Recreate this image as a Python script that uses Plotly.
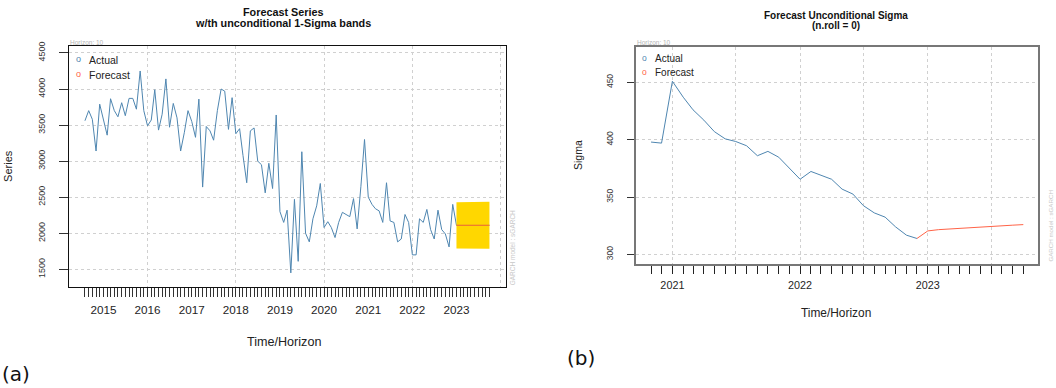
import pandas as pd
import plotly.graph_objects as go

W, H = 1056, 388
FONT = "Liberation Sans, Arial, sans-serif"

# ---------------- data ----------------
series_start = "2014-08-01"
forecast_start = "2023-01-01"
sigma_start = "2020-11-01"

actual_series = [3560, 3700, 3580, 3140, 3790, 3580, 3360, 3865, 3700, 3615,
                 3810, 3630, 3870, 3870, 3720, 4250, 3700, 3490, 3570, 3990,
                 3430, 3650, 4140, 3470, 3800, 3600, 3140, 3400, 3700, 3550,
                 3330, 3860, 2640, 3480, 3420, 3290, 3700, 4000, 3970, 3440,
                 3880, 3380, 3450, 3080, 2700, 3420, 3460, 3000, 2950, 2560,
                 2970, 2620, 3640,
                 2300, 2150, 2320, 1450, 2470, 1610, 3130, 2000, 1880, 2200,
                 2380, 2690, 2080, 2160, 2080, 1940, 2150, 2290, 2260, 2230,
                 2480, 2060, 2650, 3300, 2500, 2400, 2340, 2310, 2150, 2700,
                 2170, 2150, 1880, 1920, 2260, 2150, 1700, 1700, 2200, 2150,
                 2330, 2050, 1920, 2320, 2050, 1990, 1810, 2400]

forecast_series = [2110, 2110, 2110, 2110, 2110, 2110, 2110, 2110, 2110, 2110]

sigma_actual = [397.9, 397.0,
                450.9, 437.0, 426.0, 417.0, 407.0, 400.7, 398.4, 394.7, 386.0, 389.8, 384.7, 375.5,
                365.5, 372.3, 369.2, 365.5, 356.9, 352.6, 342.5, 336.2, 332.5, 324.0, 316.8, 313.9]

sigma_forecast = [320.5, 321.6, 322.2, 322.8, 323.4, 324.0, 324.5, 325.0, 325.5, 326.0]

series_yticks = [1500, 2000, 2500, 3000, 3500, 4000, 4500]
sigma_yticks = [300, 350, 400, 450]

# ---------------- derived ----------------
actual_dates = pd.date_range(series_start, periods=len(actual_series), freq="MS")
forecast_dates = pd.date_range(forecast_start, periods=len(forecast_series), freq="MS")
sigma_dates = pd.date_range(sigma_start, periods=len(sigma_actual), freq="MS")

left_dates = list(actual_dates) + list(forecast_dates)
right_dates = list(sigma_dates) + list(forecast_dates)
band_upper = [m + s for m, s in zip(forecast_series, sigma_forecast)]
band_lower = [m - s for m, s in zip(forecast_series, sigma_forecast)]


def year_labels(dates):
    return [str(d.year) if d.month == 1 else "" for d in dates]


def px(x):
    return x / W


def py(y):
    return 1 - y / H


BLUE = "#4f86b0"
RED = "tomato"
GOLD = "#FFD700"
GRID = "#d0d0d0"

fig = go.Figure()

# left panel
fig.add_trace(go.Scatter(x=left_dates, y=actual_series + forecast_series, mode="lines",
                         line=dict(color=BLUE, width=1.0), name="Actual",
                         showlegend=False, xaxis="x", yaxis="y"))
fig.add_trace(go.Scatter(x=forecast_dates, y=band_upper, mode="lines",
                         line=dict(width=0, color=GOLD), showlegend=False,
                         xaxis="x", yaxis="y"))
fig.add_trace(go.Scatter(x=forecast_dates, y=band_lower, mode="lines", fill="tonexty",
                         fillcolor=GOLD, line=dict(width=0, color=GOLD), showlegend=False,
                         xaxis="x", yaxis="y"))
fig.add_trace(go.Scatter(x=forecast_dates, y=forecast_series, mode="lines",
                         line=dict(color="#e8603c", width=1.1), name="Forecast",
                         showlegend=False, xaxis="x", yaxis="y"))

# right panel
fig.add_trace(go.Scatter(x=sigma_dates, y=sigma_actual, mode="lines",
                         line=dict(color=BLUE, width=1.0), name="Actual",
                         showlegend=False, xaxis="x2", yaxis="y2"))
fig.add_trace(go.Scatter(x=[sigma_dates[-1]] + list(forecast_dates),
                         y=[sigma_actual[-1]] + sigma_forecast, mode="lines",
                         line=dict(color=RED, width=1.0), name="Forecast",
                         showlegend=False, xaxis="x2", yaxis="y2"))

common_x = dict(type="date", tickmode="array", ticks="outside", showline=True, mirror=True,
                showgrid=False, zeroline=False, tickangle=0)
common_y = dict(tickmode="array", ticks="outside", showline=True, mirror=True,
                showgrid=True, gridcolor=GRID, griddash="dot", zeroline=False,
                tickangle=-90, tickwidth=1)

fig.update_layout(
    width=W, height=H, margin=dict(l=0, r=0, t=0, b=0),
    paper_bgcolor="white", plot_bgcolor="white", showlegend=False,
    font=dict(family=FONT, color="#222"),
    xaxis=dict(common_x, domain=[px(69), px(506)], anchor="y",
               range=["2014-03-22", "2024-02-15"],
               tickvals=left_dates, ticktext=year_labels(left_dates),
               ticklen=9, tickwidth=1, tickcolor="#333", linecolor="#111", linewidth=1.2,
               tickfont=dict(size=11.7, color="#1e1e1e"), ticklabelstandoff=3,
               minor=dict(tickmode="linear", tick0="2016-01-01", dtick="M24",
                          showgrid=True, gridcolor=GRID, griddash="dot", ticks="")),
    yaxis=dict(common_y, domain=[py(286), py(42)], anchor="x",
               range=[1250, 4590], tickvals=series_yticks,
               ticklen=9, tickcolor="#333", linecolor="#111", linewidth=1.2,
               tickfont=dict(size=9, color="#333"), ticklabelstandoff=10),
    xaxis2=dict(common_x, domain=[px(636), px(1038)], anchor="y2",
                range=["2020-09-19", "2023-11-12"],
                tickvals=right_dates, ticktext=year_labels(right_dates),
                ticklen=7.5, tickwidth=1.4, tickcolor="#222", linecolor="#777", linewidth=1.6,
                tickfont=dict(size=10.8, color="#1e1e1e"), ticklabelstandoff=2,
                minor=dict(tickmode="linear", tick0="2021-01-01", dtick="M6",
                           showgrid=True, gridcolor=GRID, griddash="dot", ticks="")),
    yaxis2=dict(common_y, domain=[py(262.7), py(42.7)], anchor="x2",
                range=[291.4, 480.6], tickvals=sigma_yticks,
                ticklen=7.5, tickcolor="#333", linecolor="#777", linewidth=1.6,
                tickfont=dict(size=8.5, color="#333"), ticklabelstandoff=10),
)

ann = []


def text(t, x, y, size, color="#222", xanchor="center", yanchor="middle", angle=0,
         bold=False, family=FONT):
    if bold:
        t = "<b>" + t + "</b>"
    ann.append(dict(text=t, x=px(x), y=py(y), xref="paper", yref="paper",
                    xanchor=xanchor, yanchor=yanchor, textangle=angle, showarrow=False,
                    font=dict(size=size, color=color, family=family)))


# titles
text("Forecast Series", 283, 7, 10.8, "#111", bold=True)
text("w/th unconditional 1-Sigma bands", 283, 18.5, 10.8, "#111", bold=True)
text("Forecast Unconditional Sigma", 835.5, 11, 10, "#111", bold=True)
text("(n.roll = 0)", 835.5, 21, 10, "#111", bold=True)

# axis titles
text("Series", 8, 163, 11, angle=-90)
text("Time/Horizon", 284, 341, 12.6)
text("Sigma", 578, 152, 10.5, angle=-90)
text("Time/Horizon", 836, 312, 11.9)

# legends
text("o", 78, 55, 9, BLUE)
text("Actual", 87, 56, 10.5, xanchor="left")
text("o", 78, 70, 9, RED)
text("Forecast", 87, 71, 10.5, xanchor="left")
text("o", 644.3, 53.5, 8.5, BLUE)
text("Actual", 652.7, 54.5, 10, xanchor="left")
text("o", 644.3, 67.5, 8.5, RED)
text("Forecast", 652.7, 68.5, 10, xanchor="left")

# small annotations
text("Horizon: 10", 68, 37.5, 6.5, "#b5b5b5", xanchor="left")
text("Horizon: 10", 635, 38, 6.5, "#b5b5b5", xanchor="left")
text("GARCH model : sGARCH", 512.5, 286, 6.5, "#c8c8c8", yanchor="bottom", angle=-90)
text("GARCH model : sGARCH", 1050.5, 262.5, 6.2, "#c8c8c8", yanchor="bottom", angle=-90)

# panel labels
text("(a)", 0, 374, 20, "#111", xanchor="left", family="DejaVu Sans, sans-serif")
text("(b)", 580.5, 357.5, 20, "#111", family="DejaVu Sans, sans-serif")

fig.update_layout(annotations=ann)
fig.write_html("out.html",
               config={"displayModeBar": False},
               post_script="document.body.style.margin='0';document.body.style.padding='0';")
